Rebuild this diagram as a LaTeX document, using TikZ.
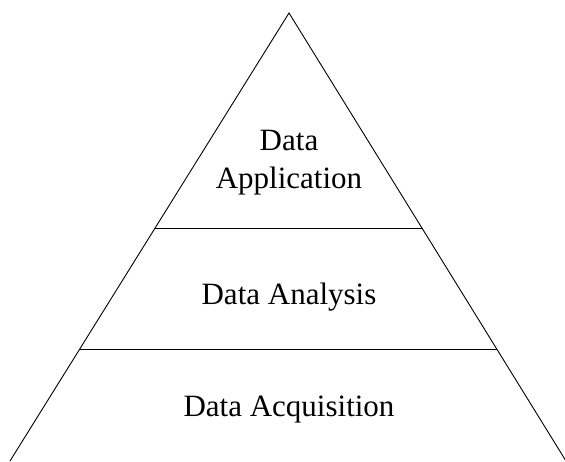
\documentclass[tikz,border=0pt]{standalone}
\usepackage{fontspec}
\setmainfont{Liberation Serif}
\begin{document}
\begin{tikzpicture}[x=1pt,y=-1pt,
  label/.style={font=\fontsize{31}{38}\selectfont, align=center, inner sep=0pt},
  edge/.style={line width=0.9pt, black}]
\useasboundingbox (0,0) rectangle (565,461);
\coordinate (apex) at (289,13);
\coordinate (bl) at (10,461);
\coordinate (br) at (566,461);
\draw[edge] (bl) -- (apex) -- (br);
\path (apex) -- (bl) coordinate[pos=0.482] (l1);
\path (apex) -- (br) coordinate[pos=0.482] (r1);
\path (apex) -- (bl) coordinate[pos=0.752] (l2);
\path (apex) -- (br) coordinate[pos=0.752] (r2);
\draw[edge] (l1) -- (r1);
\draw[edge] (l2) -- (r2);
\node[label] (app) at (289,163) {Data\\Application};
\node[label] (ana) at (289,297) {Data Analysis};
\node[label] (acq) at (289,410) {Data Acquisition};
\end{tikzpicture}
\end{document}
